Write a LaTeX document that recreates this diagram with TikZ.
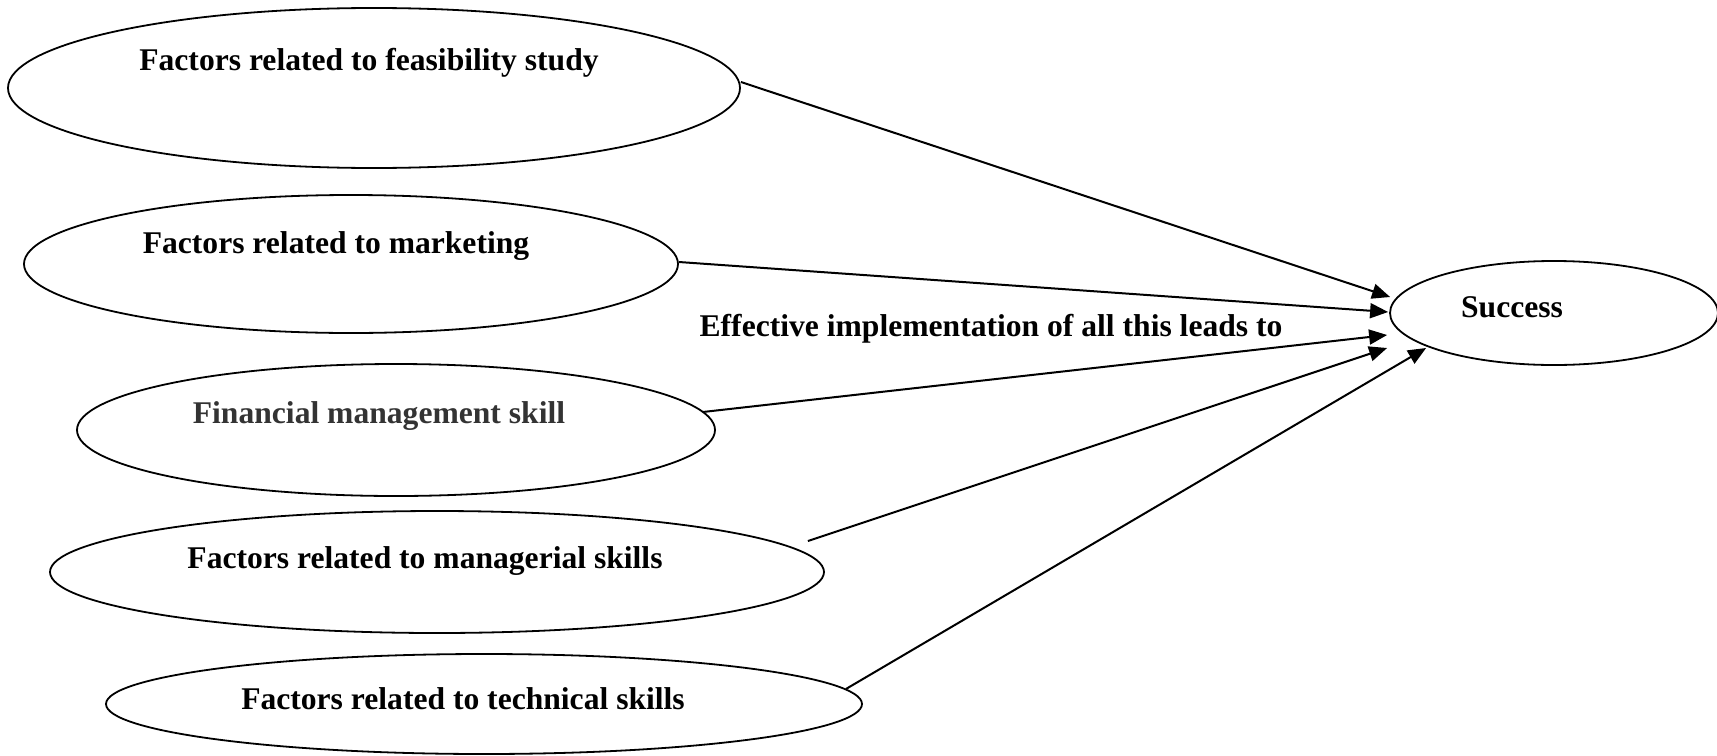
\documentclass[tikz,border=0pt]{standalone}
\usepackage{fontspec}
\setmainfont{Liberation Serif}
\usetikzlibrary{shapes.geometric,arrows.meta,calc}
\begin{document}
\begin{tikzpicture}[x=0.5pt,y=-0.5pt,
  factor/.style={ellipse,draw,line width=0.9pt,inner sep=0pt},
  caption/.style={font=\fontsize{15.8}{19}\selectfont\bfseries,inner sep=0pt},
  link/.style={line width=1pt,-{Triangle[length=9pt,width=7.5pt]}}]
\useasboundingbox (0,0) rectangle (1717,755);

% ellipses
\node[factor,minimum width=366pt,minimum height=80pt] (e1) at (374,88) {};
\node[factor,minimum width=327pt,minimum height=69pt] (e2) at (351,264) {};
\node[factor,minimum width=319pt,minimum height=66pt] (e3) at (396,430) {};
\node[factor,minimum width=387pt,minimum height=61pt] (e4) at (437,572) {};
\node[factor,minimum width=378pt,minimum height=50pt] (e5) at (484,704) {};
\node[factor,minimum width=164pt,minimum height=52pt] (s) at (1554,313) {};

% texts
\node[caption] (t1) at (369,63) {Factors related to feasibility study};
\node[caption] (t2) at (336,246) {Factors related to marketing};
\node[caption,text=black!80] (t3) at (379,416) {Financial management skill};
\node[caption] (t4) at (425,561) {Factors related to managerial skills};
\node[caption] (t5) at (463,699) {Factors related to technical skills};
\node[caption] (ts) at (1512,307) {Success};
\node[caption] (lead) at (991,329) {Effective implementation of all this leads to};

% connectors
\draw[link] ($(e1.east)+(0,-6)$) -- ($(s.west)+(1,-16)$);
\draw[link] ($(e2.east)+(0,-2)$) -- ($(s.west)+(-1,-1)$);
\draw[link] ($(e3.east)+(-13,-18)$) -- ($(s.west)+(-2,22)$);
\draw[link] ($(e4.east)+(-17,-31)$) -- ($(s.west)+(-2,35)$);
\draw[link] ($(e5.east)+(-17,-15)$) -- ($(s.west)+(37,35)$);
\end{tikzpicture}
\end{document}
